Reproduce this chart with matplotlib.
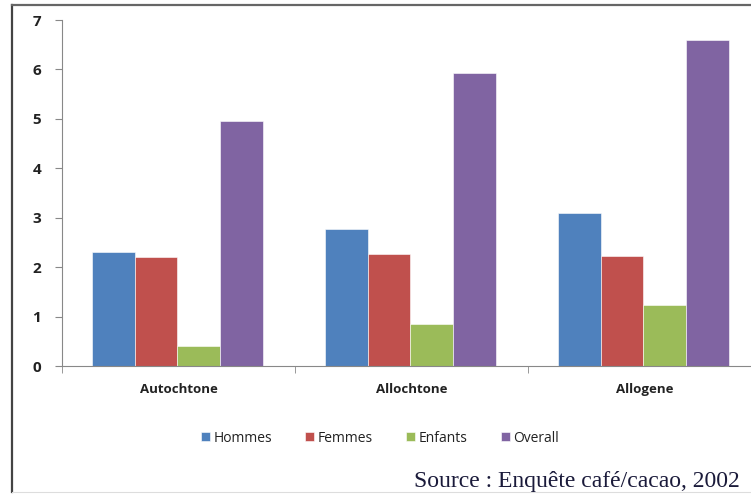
import numpy as np
import matplotlib
matplotlib.use("Agg")
import matplotlib.pyplot as plt
from matplotlib.lines import Line2D

# Données
categories = ["Autochtone", "Allochtone", "Allogene"]
series_names = ["Hommes", "Femmes", "Enfants", "Overall"]
hommes = [2.3, 2.78, 3.1]
femmes = [2.2, 2.27, 2.23]
enfants = [0.4, 0.85, 1.23]
overall = [4.95, 5.93, 6.6]
yticks = [0, 1, 2, 3, 4, 5, 6, 7]

colors = ["#4f81bd", "#c0504d", "#9bbb59", "#8064a2"]
series = [hommes, femmes, enfants, overall]

W, H = 751, 494
fig = plt.figure(figsize=(W / 100, H / 100), dpi=100)
ax = fig.add_axes([62 / W, (H - 366) / H, 699 / W, 346 / H])

x = np.arange(len(categories))
bw = 0.183
for i, (vals, name, c) in enumerate(zip(series, series_names, colors)):
    ax.bar(x + (i - 1.5) * bw - 0.005, vals, bw, color=c, label=name,
           edgecolor="white", linewidth=0.4)

ax.set_xlim(-0.5, 2.5)
ax.set_ylim(0, 7)
ax.set_yticks(yticks)
ax.set_yticklabels([str(v) for v in yticks], fontsize=11, fontweight="bold",
                   family="Open Sans", color="#222222")
ax.set_xticks(x)
ax.set_xticklabels(categories, fontsize=9.5, fontweight="bold",
                   family="Open Sans", color="#222222")
ax.tick_params(axis="x", which="major", length=0, pad=12)
ax.set_xticks([-0.5, 0.5, 1.5], minor=True)
ax.tick_params(axis="x", which="minor", length=5, color="#888888", direction="out")
ax.tick_params(axis="y", length=5, color="#888888", pad=10)

for s in ["top", "right"]:
    ax.spines[s].set_visible(False)
ax.spines["left"].set_color("#888888")
ax.spines["bottom"].set_color("#888888")

leg = fig.legend(loc="center", bbox_to_anchor=(380 / W, 1 - 438 / H), ncol=4,
                 frameon=False, handlelength=0.65, handleheight=0.65,
                 columnspacing=2.4, handletextpad=0.25,
                 prop={"family": "Open Sans", "size": 10})
for t in leg.get_texts():
    t.set_color("#222222")

fig.text(740 / W, 1 - 481 / H, "Source : Enquête café/cacao, 2002",
         ha="right", va="center", family="Liberation Serif", fontsize=17,
         color="#1a1a3a")

# cadre extérieur
fig.add_artist(Line2D([12 / W, 12 / W], [1 - 5 / H, 1 - 492 / H],
                      transform=fig.transFigure, color="#444444", lw=1.6))
fig.add_artist(Line2D([12 / W, 1], [1 - 5 / H, 1 - 5 / H],
                      transform=fig.transFigure, color="#666666", lw=1.6))
fig.add_artist(Line2D([12 / W, 1], [1 - 492 / H, 1 - 492 / H],
                      transform=fig.transFigure, color="#dddddd", lw=0.8))

fig.savefig("out.png", dpi=100, facecolor="white")
